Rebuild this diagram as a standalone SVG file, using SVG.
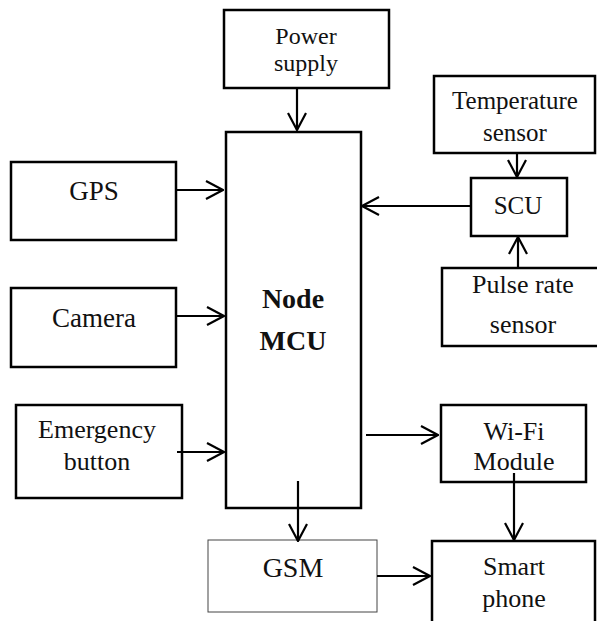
<svg xmlns="http://www.w3.org/2000/svg" width="597" height="621" viewBox="0 0 597 621">
<defs>
<style>
.box{fill:#fff;stroke:#000;stroke-width:2.5}
.thin{fill:#fff;stroke:#444;stroke-width:1}
.t{font-family:"Liberation Serif","Times New Roman",serif;fill:#111;text-anchor:middle}
.b{font-weight:bold}
.c{stroke:#000;stroke-width:2.2;fill:none}
</style>
<marker id="ah" viewBox="0 0 20 20" refX="19" refY="10" markerWidth="20" markerHeight="20" markerUnits="userSpaceOnUse" orient="auto">
<path d="M2,1 L19,10 L2,19" fill="none" stroke="#000" stroke-width="2.2"/>
</marker>
</defs>
<rect width="597" height="621" fill="#fff"/>
<g id="power">
<rect class="box" x="224" y="10" width="165" height="78"/>
<text class="t" x="306" y="44" font-size="24">Power</text>
<text class="t" x="306" y="71" font-size="24">supply</text>
</g>
<g id="nodemcu">
<rect class="box" x="226" y="132" width="135" height="376"/>
<text class="t b" x="293" y="308" font-size="28">Node</text>
<text class="t b" x="293" y="350" font-size="28">MCU</text>
</g>
<g id="temp">
<rect class="box" x="434" y="76" width="161" height="77"/>
<text class="t" x="515" y="109" font-size="25">Temperature</text>
<text class="t" x="515" y="141" font-size="25">sensor</text>
</g>
<g id="scu">
<rect class="box" x="471" y="178" width="96" height="58"/>
<text class="t" x="518" y="214" font-size="25">SCU</text>
</g>
<g id="pulse">
<rect class="box" x="442" y="268" width="162" height="78"/>
<text class="t" x="523" y="293" font-size="26">Pulse rate</text>
<text class="t" x="523" y="333" font-size="26">sensor</text>
</g>
<g id="gps">
<rect class="box" x="11" y="162" width="165" height="78"/>
<text class="t" x="94" y="200" font-size="27">GPS</text>
</g>
<g id="camera">
<rect class="box" x="11" y="288" width="165" height="79"/>
<text class="t" x="94" y="327" font-size="27">Camera</text>
</g>
<g id="emergency">
<rect class="box" x="16" y="405" width="166" height="93"/>
<text class="t" x="97" y="438" font-size="26">Emergency</text>
<text class="t" x="97" y="470" font-size="26">button</text>
</g>
<g id="wifi">
<rect class="box" x="441" y="405" width="145" height="77"/>
<text class="t" x="514" y="440" font-size="26">Wi-Fi</text>
<text class="t" x="514" y="470" font-size="26">Module</text>
</g>
<g id="gsm">
<rect class="thin" x="208" y="540" width="169" height="72"/>
<text class="t" x="293" y="577" font-size="28">GSM</text>
</g>
<g id="smartphone">
<rect class="box" x="432" y="541" width="163" height="90"/>
<text class="t" x="514" y="575" font-size="26">Smart</text>
<text class="t" x="514" y="607" font-size="26">phone</text>
</g>
<g id="connectors">
<line class="c" x1="297" y1="88" x2="297" y2="130" marker-end="url(#ah)"/>
<line class="c" x1="176" y1="190" x2="223" y2="190" marker-end="url(#ah)"/>
<line class="c" x1="176" y1="316" x2="224" y2="316" marker-end="url(#ah)"/>
<line class="c" x1="177" y1="452" x2="224" y2="452" marker-end="url(#ah)"/>
<line class="c" x1="471" y1="206" x2="362" y2="206" marker-end="url(#ah)"/>
<line class="c" x1="517" y1="153" x2="517" y2="177" marker-end="url(#ah)"/>
<line class="c" x1="518" y1="268" x2="518" y2="237" marker-end="url(#ah)"/>
<line class="c" x1="366" y1="435" x2="438" y2="435" marker-end="url(#ah)"/>
<line class="c" x1="298" y1="481" x2="298" y2="541" marker-end="url(#ah)"/>
<line class="c" x1="514" y1="473" x2="514" y2="540" marker-end="url(#ah)"/>
<line class="c" x1="377" y1="576" x2="430" y2="576" marker-end="url(#ah)"/>
</g>
</svg>
